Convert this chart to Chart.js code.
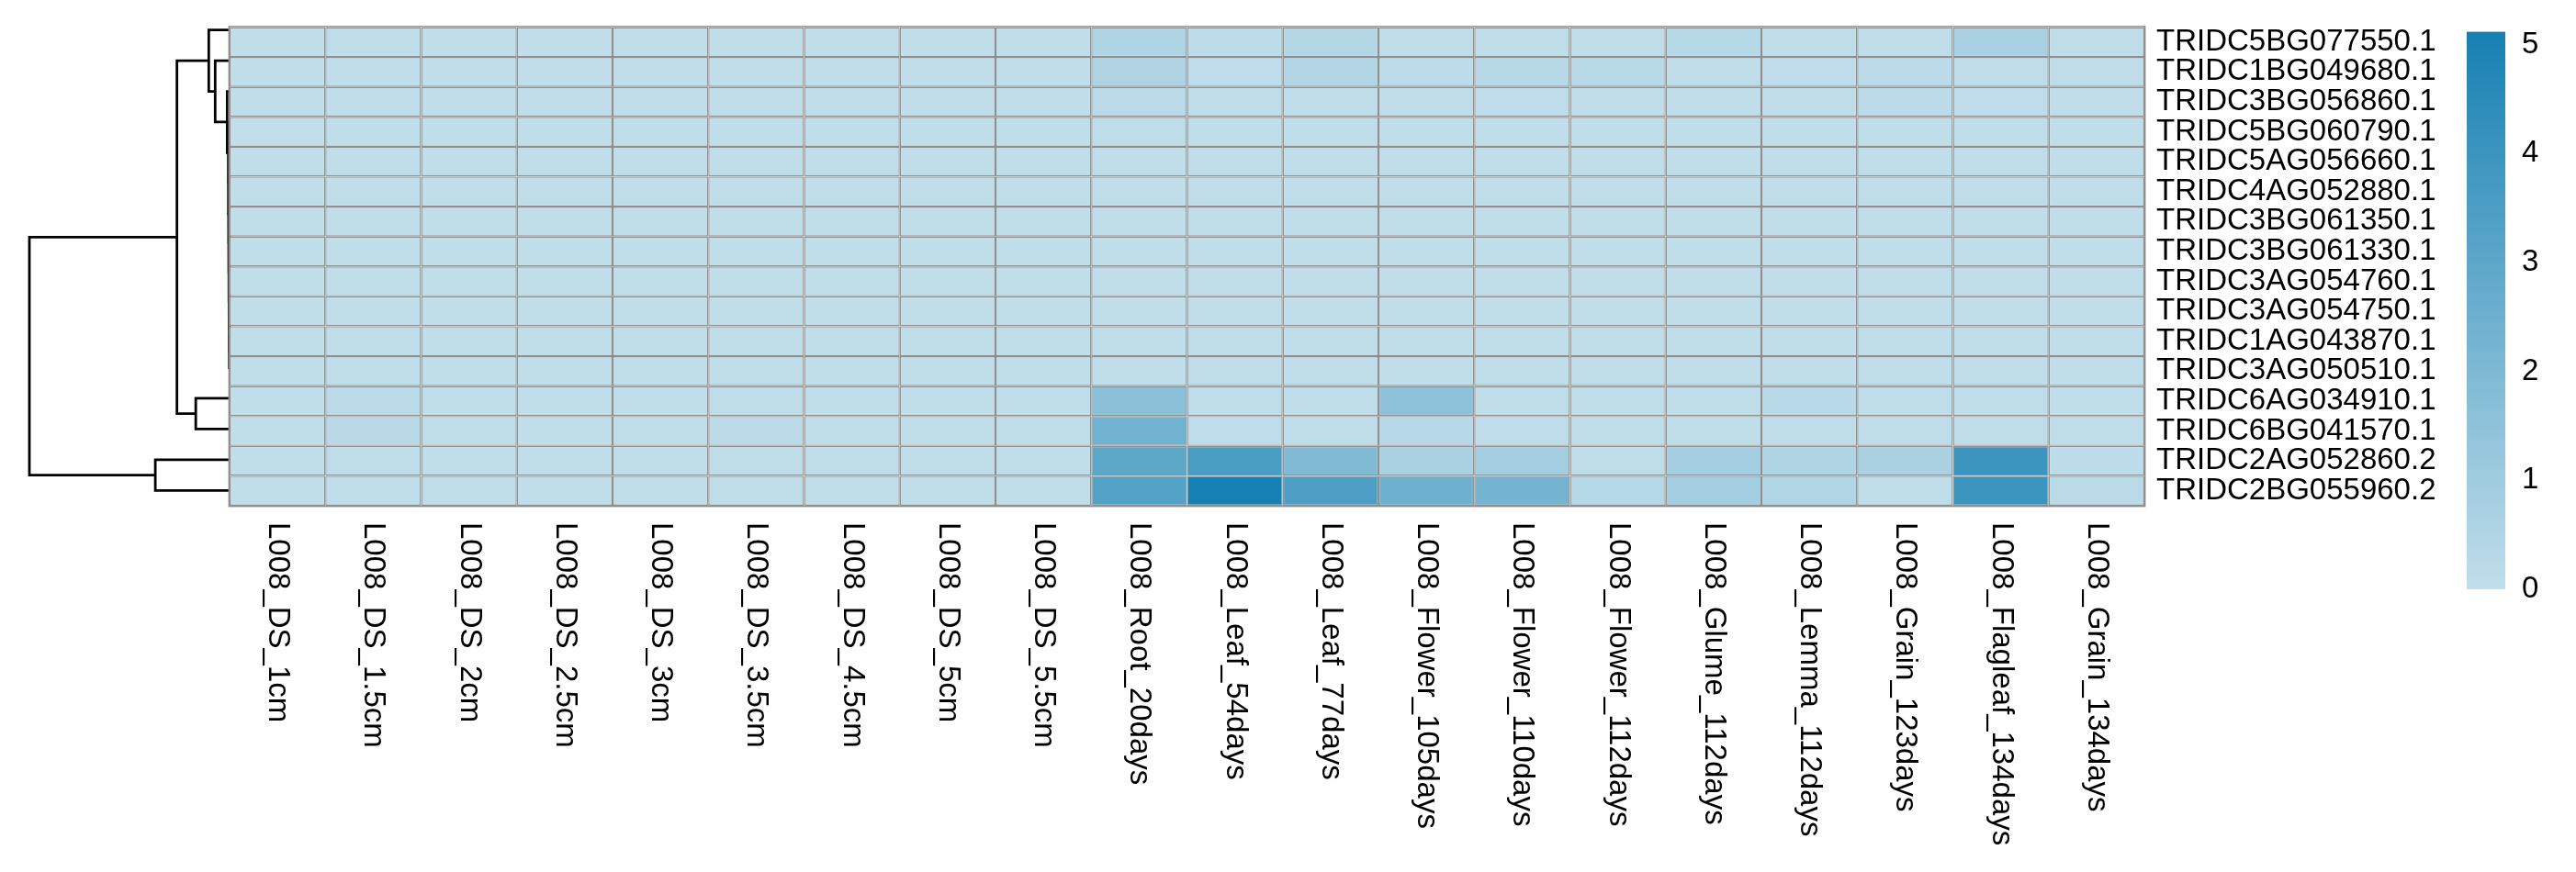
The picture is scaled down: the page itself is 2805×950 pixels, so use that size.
<!DOCTYPE html>
<html><head><meta charset="utf-8">
<script src="https://cdn.jsdelivr.net/npm/chart.js@4/dist/chart.umd.min.js"></script>
<style>
html,body{margin:0;padding:0;background:#fff;}
#wrap{position:relative;width:2805px;height:950px;overflow:hidden;background:#fff;}
canvas{position:absolute;}
</style></head><body>
<div id="wrap">
<canvas id="dendro" width="260" height="600" style="left:0;top:0;width:260px;height:600px"></canvas>
<canvas id="heat" width="2440" height="950" style="left:240px;top:0;width:2440px;height:950px"></canvas>
<canvas id="legend" width="145" height="700" style="left:2660px;top:0;width:145px;height:700px"></canvas>
</div>
<script>
// ---------- DATA ----------
const columns = ["L008_DS_1cm","L008_DS_1.5cm","L008_DS_2cm","L008_DS_2.5cm","L008_DS_3cm","L008_DS_3.5cm","L008_DS_4.5cm","L008_DS_5cm","L008_DS_5.5cm","L008_Root_20days","L008_Leaf_54days","L008_Leaf_77days","L008_Flower_105days","L008_Flower_110days","L008_Flower_112days","L008_Glume_112days","L008_Lemma_112days","L008_Grain_123days","L008_Flagleaf_134days","L008_Grain_134days"];

const genes = ["TRIDC5BG077550.1","TRIDC1BG049680.1","TRIDC3BG056860.1","TRIDC5BG060790.1","TRIDC5AG056660.1","TRIDC4AG052880.1","TRIDC3BG061350.1","TRIDC3BG061330.1","TRIDC3AG054760.1","TRIDC3AG054750.1","TRIDC1AG043870.1","TRIDC3AG050510.1","TRIDC6AG034910.1","TRIDC6BG041570.1","TRIDC2AG052860.2","TRIDC2BG055960.2"];

const TRIDC5BG077550 = [0.03,0.05,0.03,0.04,0.03,0.04,0.03,0.03,0.04, 0.55,0.12,0.38,0.08,0.05,0.05,0.35,0.06,0.07,0.75,0.05];
const TRIDC1BG049680 = [0.03,0.04,0.03,0.03,0.03,0.04,0.03,0.03,0.03, 0.52,0.10,0.45,0.12,0.30,0.28,0.06,0.10,0.15,0.08,0.05];
const TRIDC3BG056860 = [0.03,0.03,0.03,0.03,0.03,0.03,0.03,0.03,0.03, 0.22,0.05,0.08,0.05,0.10,0.06,0.05,0.07,0.15,0.10,0.04];
const TRIDC5BG060790 = [0.00,0.02,0.02,0.02,0.02,0.02,0.02,0.02,0.02, 0.05,0.03,0.03,0.03,0.03,0.03,0.03,0.03,0.04,0.03,0.03];
const TRIDC5AG056660 = [0.02,0.02,0.02,0.02,0.02,0.02,0.02,0.02,0.02, 0.04,0.03,0.03,0.03,0.03,0.03,0.03,0.03,0.03,0.03,0.03];
const TRIDC4AG052880 = [0.02,0.02,0.02,0.02,0.02,0.02,0.02,0.02,0.02, 0.03,0.03,0.03,0.03,0.03,0.03,0.03,0.03,0.03,0.03,0.03];
const TRIDC3BG061350 = [0.02,0.02,0.02,0.02,0.02,0.02,0.02,0.02,0.02, 0.03,0.03,0.03,0.03,0.03,0.03,0.03,0.03,0.03,0.03,0.03];
const TRIDC3BG061330 = [0.02,0.02,0.02,0.02,0.02,0.02,0.02,0.02,0.02, 0.03,0.03,0.03,0.03,0.03,0.03,0.03,0.03,0.03,0.03,0.03];
const TRIDC3AG054760 = [0.02,0.02,0.02,0.02,0.02,0.02,0.02,0.02,0.02, 0.03,0.03,0.03,0.03,0.03,0.03,0.03,0.03,0.03,0.03,0.03];
const TRIDC3AG054750 = [0.02,0.02,0.02,0.02,0.02,0.02,0.02,0.02,0.02, 0.03,0.03,0.03,0.03,0.03,0.03,0.03,0.03,0.03,0.03,0.03];
const TRIDC1AG043870 = [0.02,0.02,0.02,0.02,0.02,0.02,0.02,0.02,0.02, 0.03,0.03,0.03,0.03,0.03,0.03,0.03,0.03,0.03,0.03,0.03];
const TRIDC3AG050510 = [0.02,0.02,0.02,0.02,0.02,0.02,0.02,0.02,0.02, 0.03,0.03,0.03,0.03,0.03,0.03,0.03,0.03,0.03,0.03,0.03];
const TRIDC6AG034910 = [0.03,0.20,0.04,0.03,0.04,0.05,0.03,0.03,0.04, 1.65,0.05,0.06,1.60,0.08,0.06,0.07,0.28,0.06,0.05,0.04];
const TRIDC6BG041570 = [0.04,0.25,0.05,0.04,0.05,0.15,0.04,0.05,0.05, 2.40,0.10,0.08,0.30,0.10,0.05,0.05,0.06,0.05,0.06,0.05];
const TRIDC2AG052860 = [0.04,0.05,0.04,0.04,0.04,0.05,0.05,0.05,0.06, 3.00,3.55,1.95,0.70,0.90,0.08,0.90,0.55,0.70,4.00,0.12];
const TRIDC2BG055960 = [0.03,0.04,0.06,0.04,0.04,0.05,0.04,0.05,0.05, 3.25,5.12,3.50,2.50,2.30,0.35,0.90,0.50,0.05,4.00,0.20];

const rows = [TRIDC5BG077550,TRIDC1BG049680,TRIDC3BG056860,TRIDC5BG060790,TRIDC5AG056660,TRIDC4AG052880,TRIDC3BG061350,TRIDC3BG061330,TRIDC3AG054760,TRIDC3AG054750,TRIDC1AG043870,TRIDC3AG050510,TRIDC6AG034910,TRIDC6BG041570,TRIDC2AG052860,TRIDC2BG055960];

// hclust-style merges: negative = leaf (row index + 1), positive = earlier merge (1-based); third = height
const dendroMerges = [
  [-11,-12,0.02],[-10,1,0.025],[-9,2,0.03],[-8,3,0.035],[-7,4,0.04],[-6,5,0.045],[-5,6,0.05],[-4,7,0.055],
  [-3,8,0.12],[-2,9,0.72],[-1,10,1.04],[-13,-14,1.69],[11,12,2.63],[-15,-16,3.71],[13,14,10.0]
];

const legendTicks = [0,1,2,3,4,5];

// ---------- STYLE ----------
const lowRGB = [193,222,234];
const highRGB = [22,128,178];
const GRID = '#8f8f8f';
const FONT = '"Liberation Sans", Arial, Helvetica, sans-serif';
Chart.defaults.font.family = FONT;
Chart.defaults.color = '#000';

const vmax = Math.max(...rows.flat());
function colorFor(v){
  const t = Math.max(0, Math.min(1, v / vmax));
  const c = lowRGB.map((l,k)=>Math.round(l + (highRGB[k]-l)*t));
  return `rgb(${c[0]},${c[1]},${c[2]})`;
}

// ---------- DENDROGRAM ----------
const nodes = [];
function nodeInfo(ref){
  if (ref < 0) return {pos: (-ref - 1) + 0.5, h: 0};
  return nodes[ref - 1];
}
const dendroSets = [];
dendroMerges.forEach(([a,b,h])=>{
  const A = nodeInfo(a), B = nodeInfo(b);
  nodes.push({pos:(A.pos+B.pos)/2, h:h});
  dendroSets.push({
    data:[{x:A.h,y:A.pos},{x:h,y:A.pos},{x:h,y:B.pos},{x:B.h,y:B.pos}],
    showLine:true, borderColor:'#000', borderWidth:2.8, pointRadius:0, tension:0, clip:false,
    borderCapStyle:'butt', borderJoinStyle:'miter'
  });
});
new Chart(document.getElementById('dendro'), {
  type:'scatter',
  data:{datasets:dendroSets},
  options:{
    responsive:false, animation:false, devicePixelRatio:1,
    layout:{padding:{left:32, top:16, right:10, bottom:49}},
    plugins:{legend:{display:false}, tooltip:{enabled:false}},
    scales:{
      x:{type:'linear', display:false, reverse:true, min:0, max:10},
      y:{type:'linear', display:false, reverse:true, min:0, max:16}
    }
  }
});

// ---------- HEATMAP ----------
const colLabels = {
  id:'colLabels',
  afterDraw(chart){
    const {ctx, chartArea, scales:{x}} = chart;
    ctx.save();
    ctx.font = '33px ' + FONT;
    ctx.fillStyle = '#000';
    ctx.textAlign = 'left';
    ctx.textBaseline = 'middle';
    columns.forEach((c,i)=>{
      const px = x.getPixelForValue(i);
      ctx.save();
      ctx.translate(px, chartArea.bottom + 18);
      ctx.rotate(Math.PI/2);
      ctx.fillText(c, 0, 0);
      ctx.restore();
    });
    ctx.restore();
  }
};
const outline = {
  id:'outline',
  afterDatasetsDraw(chart){
    const {ctx, chartArea:a} = chart;
    ctx.save();
    ctx.strokeStyle = GRID;
    ctx.lineWidth = 1.4;
    ctx.strokeRect(a.left-0.7, a.top-0.7, a.right-a.left+1.4, a.bottom-a.top+1.4);
    ctx.restore();
  }
};
new Chart(document.getElementById('heat'), {
  type:'bar',
  data:{
    labels: columns,
    datasets: genes.map((g,i)=>({
      label:g,
      data: columns.map(()=>[i, i+1]),
      backgroundColor: rows[i].map(colorFor),
      borderColor:GRID, borderWidth:1.4, borderSkipped:false, inflateAmount:0,
      barPercentage:1, categoryPercentage:1, grouped:false
    }))
  },
  options:{
    responsive:false, animation:false, devicePixelRatio:1,
    layout:{padding:{left:10, top:16, right:0, bottom:399}},
    plugins:{legend:{display:false}, tooltip:{enabled:false}},
    scales:{
      x:{display:false, offset:true, grid:{display:false}},
      y:{
        position:'right', min:0, max:16, reverse:true,
        grid:{display:false, drawTicks:false}, border:{display:false},
        afterBuildTicks: s => { s.ticks = genes.map((g,i)=>({value:i+0.5})); },
        afterFit: s => { s.width = 345; },
        ticks:{autoSkip:false, padding:13, color:'#000', font:{size:33, lineHeight:1},
               callback: v => genes[Math.floor(v)]}
      }
    }
  },
  plugins:[colLabels, outline]
});

// ---------- COLOR LEGEND ----------
new Chart(document.getElementById('legend'), {
  type:'bar',
  data:{
    labels:[''],
    datasets:[{
      data:[[0, vmax]],
      backgroundColor: (ctx)=>{
        const ca = ctx.chart.chartArea;
        if (!ca) return colorFor(vmax);
        const g = ctx.chart.ctx.createLinearGradient(0, ca.bottom, 0, ca.top);
        g.addColorStop(0, colorFor(0));
        g.addColorStop(1, colorFor(vmax));
        return g;
      },
      borderWidth:0, barPercentage:1, categoryPercentage:1
    }]
  },
  options:{
    responsive:false, animation:false, devicePixelRatio:1,
    layout:{padding:{left:26, top:17, right:0, bottom:58}},
    plugins:{legend:{display:false}, tooltip:{enabled:false}},
    scales:{
      x:{display:false},
      y:{
        position:'right', min:0, max:vmax,
        grid:{display:false, drawTicks:false}, border:{display:false},
        afterBuildTicks: s => { s.ticks = legendTicks.map(v=>({value:v})); },
        afterFit: s => { s.width = 77; },
        ticks:{autoSkip:false, padding:18, color:'#000', font:{size:33, lineHeight:1}}
      }
    }
  }
});
</script>
</body></html>
